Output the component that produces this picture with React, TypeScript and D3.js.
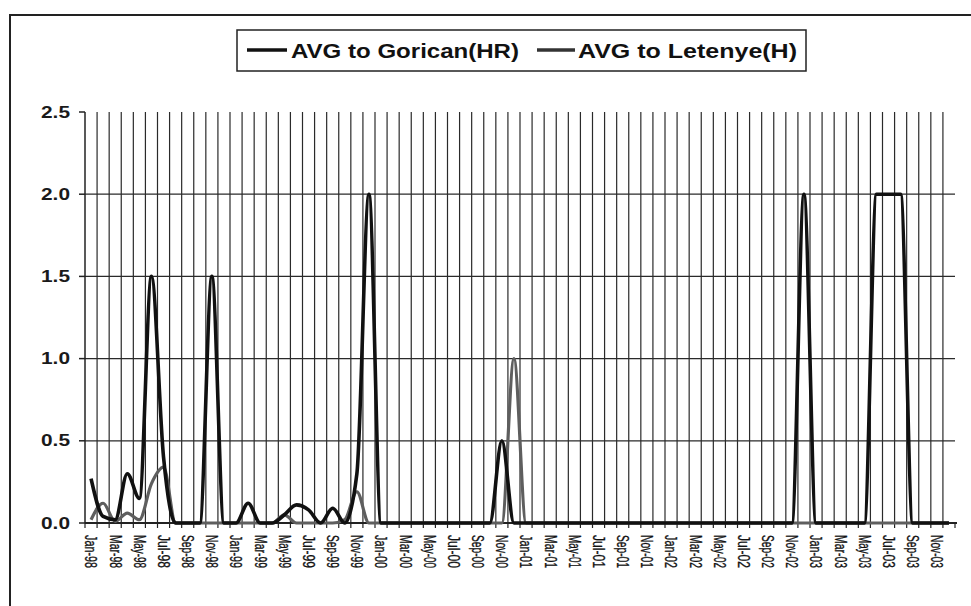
import React from "react";
import * as d3 from "d3";

const months = ["Jan", "Feb", "Mar", "Apr", "May", "Jun", "Jul", "Aug", "Sep", "Oct", "Nov", "Dec"];
const years = ["98", "99", "00", "01", "02", "03"];
const categories: string[] = years.flatMap((y) => months.map((m) => `${m}-${y}`));

// AVG to Gorican(HR), Jan-98 .. Dec-03
const gorican: number[] = [
  0.27, 0.04, 0.02, 0.3, 0.15, 1.5, 0.4, 0, 0, 0, 1.5, 0,
  0, 0.12, 0, 0, 0.05, 0.11, 0.08, 0, 0.09, 0, 0.3, 2.0,
  0, 0, 0, 0, 0, 0, 0, 0, 0, 0, 0.5, 0,
  0, 0, 0, 0, 0, 0, 0, 0, 0, 0, 0, 0,
  0, 0, 0, 0, 0, 0, 0, 0, 0, 0, 0, 2.0,
  0, 0, 0, 0, 0, 2.0, 2.0, 2.0, 0, 0, 0, 0,
];

// AVG to Letenye(H)
const letenye: number[] = [
  0.02, 0.12, 0.01, 0.06, 0.02, 0.24, 0.34, 0, 0, 0, 0, 0,
  0, 0, 0, 0, 0.05, 0, 0, 0, 0, 0.02, 0.19, 0,
  0, 0, 0, 0, 0, 0, 0, 0, 0, 0, 0, 1.0,
  0, 0, 0, 0, 0, 0, 0, 0, 0, 0, 0, 0,
  0, 0, 0, 0, 0, 0, 0, 0, 0, 0, 0, 0,
  0, 0, 0, 0, 0, 0, 0, 0, 0, 0, 0, 0,
];

const yTicks = [0, 0.5, 1.0, 1.5, 2.0, 2.5];
const seriesNames = ["AVG to Gorican(HR)", "AVG to Letenye(H)"];

export default function App() {
  const W = 971;
  const H = 606;
  const left = 85;
  const right = 955;
  const top = 112;
  const bottom = 523;

  const x = d3.scaleBand<string>().domain(categories).range([left, right]).paddingInner(0).paddingOuter(0);
  const y = d3.scaleLinear().domain([0, 2.5]).range([bottom, top]);
  const bw = x.bandwidth();
  const cx = (i: number) => (x(categories[i]) as number) + bw / 2;

  const line = d3
    .line<number>()
    .x((_, i) => cx(i))
    .y((d) => y(d))
    .curve(d3.curveMonotoneX);

  const font = "'Liberation Sans', Arial, sans-serif";
  const boundaries = d3.range(0, categories.length + 1).map((i) => left + i * bw);

  return (
    <div style={{ position: "absolute", left: 0, top: 0 }}>
      <svg width={W} height={H} style={{ display: "block", background: "#fff" }}>
        <rect x={0} y={0} width={W} height={H} fill="#fff" />
        {/* chart border */}
        <rect x={10} y={15} width={1000} height={700} fill="none" stroke="#222" strokeWidth={2} />

        {/* vertical gridlines */}
        {boundaries.slice(1, categories.length).map((bx, i) => (
          <line key={`vg${i}`} x1={bx} x2={bx} y1={top} y2={bottom} stroke="#2a2a2a" strokeWidth={1.2} />
        ))}
        {/* horizontal gridlines */}
        {yTicks.slice(1, 5).map((t) => (
          <line key={`hg${t}`} x1={left} x2={right} y1={y(t)} y2={y(t)} stroke="#2a2a2a" strokeWidth={1.3} />
        ))}

        {/* y axis */}
        <line x1={left} x2={left} y1={top} y2={bottom} stroke="#222" strokeWidth={1.5} />
        {yTicks.map((t) => (
          <g key={`yt${t}`}>
            <line x1={left - 6} x2={left} y1={y(t)} y2={y(t)} stroke="#222" strokeWidth={1.5} />
            <text
              x={70}
              y={y(t)}
              textAnchor="end"
              dominantBaseline="central"
              fontFamily={font}
              fontWeight="bold"
              fontSize={17}
              fill="#1a1a1a"
              textLength={29}
              lengthAdjust="spacingAndGlyphs"
            >
              {t.toFixed(1)}
            </text>
          </g>
        ))}

        {/* x axis */}
        <line x1={left} x2={right + 2} y1={bottom} y2={bottom} stroke="#222" strokeWidth={2} />
        {boundaries.map((bx, i) => (
          <line key={`xt${i}`} x1={bx} x2={bx} y1={bottom} y2={bottom + 5} stroke="#222" strokeWidth={1.2} />
        ))}
        {categories.map((c, i) =>
          i % 2 === 0 ? (
            <text
              key={`xl${c}`}
              transform={`translate(${cx(i)},${bottom + 12}) rotate(90) scale(1,1.3)`}
              dominantBaseline="central"
              fontFamily={font}
              fontSize={12}
              fill="#111"
              stroke="#111"
              strokeWidth={0.25}
              textLength={33}
              lengthAdjust="spacingAndGlyphs"
            >
              {c}
            </text>
          ) : null
        )}

        {/* series */}
        <path d={line(letenye) || ""} fill="none" stroke="#5e5e5e" strokeWidth={3.2} strokeLinejoin="round" />
        <path d={line(gorican) || ""} fill="none" stroke="#111" strokeWidth={3.6} strokeLinejoin="round" />

        {/* legend */}
        <rect x={237} y={30} width={569} height={41} fill="#fff" stroke="#222" strokeWidth={1.5} />
        <line x1={247} x2={287} y1={50} y2={50} stroke="#111" strokeWidth={3.5} />
        <text
          x={291}
          y={51}
          dominantBaseline="central"
          fontFamily={font}
          fontWeight="bold"
          fontSize={20}
          fill="#111"
          textLength={228}
          lengthAdjust="spacingAndGlyphs"
        >
          {seriesNames[0]}
        </text>
        <line x1={537} x2={575} y1={50} y2={50} stroke="#333" strokeWidth={3.5} />
        <text
          x={578}
          y={51}
          dominantBaseline="central"
          fontFamily={font}
          fontWeight="bold"
          fontSize={20}
          fill="#111"
          textLength={219}
          lengthAdjust="spacingAndGlyphs"
        >
          {seriesNames[1]}
        </text>
      </svg>
    </div>
  );
}
